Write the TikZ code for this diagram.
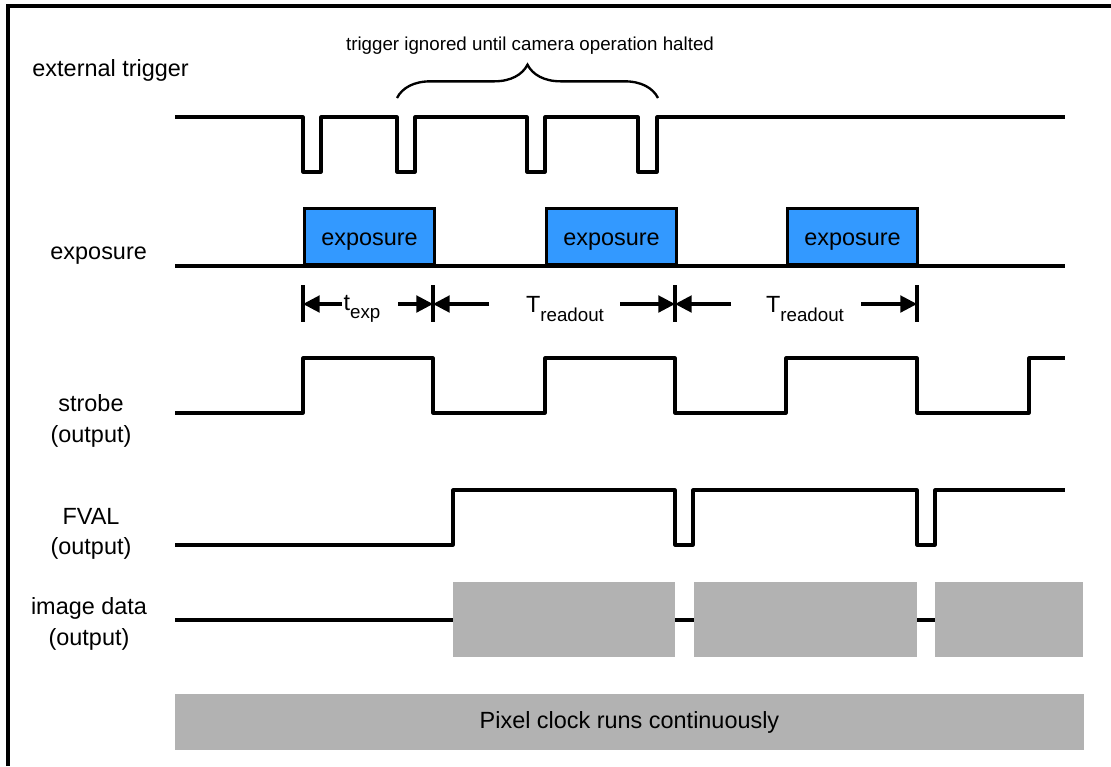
\documentclass[tikz,border=0pt]{standalone}
\usepackage{fontspec}
\setmainfont{Liberation Sans}
\usetikzlibrary{arrows.meta, positioning, decorations.pathreplacing}
\definecolor{expblue}{RGB}{51,153,255}
\definecolor{datagray}{RGB}{178,178,178}
\tikzset{
  sigwave/.style={line width=1.3pt, line join=round},
  siglabel/.style={font=\fontsize{10}{13}\selectfont, align=center, inner sep=0pt},
  expbox/.style={
    draw, line width=1.3pt, fill=expblue, inner sep=0pt,
    font=\fontsize{10}{12}\selectfont, text height=9.5pt, text depth=2pt,
    minimum width=1.95cm, minimum height=0.84cm
  },
  databox/.style={fill=datagray, inner sep=0pt, minimum height=1.125cm},
  dimtick/.style={line width=1.3pt},
  dimarrow/.style={-{Triangle[length=2.5mm, width=2.5mm]}, line width=1.3pt},
  dimlabel/.style={font=\fontsize{10}{12}\selectfont, inner sep=0pt},
}

\begin{document}
\begin{tikzpicture}[x=0.015cm, y=-0.015cm]
  \useasboundingbox (0,0) rectangle (1111,766);
  % === Frame ===
  \draw[line width=2pt] (8,766) -- (8,6) -- (1111,6);

  % === Signal names ===
  \node[siglabel, anchor=west] (lbltrig) at (32,70) {external trigger};
  \node[siglabel, anchor=west] (lblexp) at (50,256) {exposure};
  \node[siglabel] (lblstrobe) at (91,421) {strobe\\(output)};
  \node[siglabel] (lblfval) at (91,534) {FVAL\\(output)};
  \node[siglabel] (lbldata) at (89,624) {image data\\(output)};

  % === External trigger ===
  \draw[sigwave] (175,117)
    foreach \a/\b in {303/321,397/415,527/545,638/657} {
      -- (\a,117) -- (\a,172) -- (\b,172) -- (\b,117)
    } -- (1065,117);
  \coordinate (braceL) at (397,98);
  \coordinate (braceR) at (658,98);
  \draw[line width=1pt, decorate, decoration={brace, amplitude=0.5cm}]
    (braceL) -- (braceR);
  \node[font=\fontsize{8}{10}\selectfont, inner sep=0pt] (ignored) at (530,46)
    {trigger ignored until camera operation halted};

  % === Exposure ===
  \draw[sigwave] (175,266) -- (1065,266);
  \foreach \x/\n in {303/1,545/2,786/3}
    \node[expbox, anchor=south west] (exp\n) at (\x,266)
      {exposure\hspace{0.12cm}};

  % === Timing marks ===
  \foreach \x/\n in {303/A,433/B,675/C,917/D} {
    \draw[dimtick] (\x,285) -- (\x,322);
    \coordinate (tick\n) at (\x,304);
  }
  \coordinate (texpL) at (342,304);
  \coordinate (texpR) at (398,304);
  \coordinate (readAL) at (489,304);
  \coordinate (readAR) at (620,304);
  \coordinate (readBL) at (731,304);
  \coordinate (readBR) at (861,304);
  \draw[dimarrow] (texpL) -- (tickA);
  \draw[dimarrow] (texpR) -- (tickB);
  \draw[dimarrow] (readAL) -- (tickB);
  \draw[dimarrow] (readAR) -- (tickC);
  \draw[dimarrow] (readBL) -- (tickC);
  \draw[dimarrow] (readBR) -- (tickD);
  \node[dimlabel] (texp) at (362,309)
    {t\raisebox{-0.7ex}{\fontsize{8}{8}\selectfont exp}};
  \node[dimlabel] (readA) at (565,309)
    {T\raisebox{-0.7ex}{\fontsize{8}{8}\selectfont readout}};
  \node[dimlabel] (readB) at (805,309)
    {T\raisebox{-0.7ex}{\fontsize{8}{8}\selectfont readout}};

  % === Strobe ===
  \draw[sigwave] (175,413)
    foreach \a/\b in {303/433,545/675,786/917} {
      -- (\a,413) -- (\a,358) -- (\b,358) -- (\b,413)
    } -- (1029,413) -- (1029,358) -- (1065,358);

  % === FVAL ===
  \draw[sigwave] (175,545) -- (453,545) -- (453,490)
    foreach \a/\b in {675/693,917/935} {
      -- (\a,490) -- (\a,545) -- (\b,545) -- (\b,490)
    } -- (1065,490);

  % === Image data ===
  \draw[sigwave] (175,620) -- (935,620);
  \node[databox, minimum width=3.33cm, anchor=north west] (frame1) at (453,582) {};
  \node[databox, minimum width=3.345cm, anchor=north west] (frame2) at (694,582) {};
  \node[databox, minimum width=2.22cm, anchor=north west] (frame3) at (935,582) {};

  % === Pixel clock ===
  \node[fill=datagray, inner sep=0pt, minimum width=13.62cm, minimum height=0.84cm,
    anchor=north west, font=\fontsize{10}{12}\selectfont] (pixclk) at (175,694)
    {Pixel clock runs continuously};
\end{tikzpicture}
\end{document}
